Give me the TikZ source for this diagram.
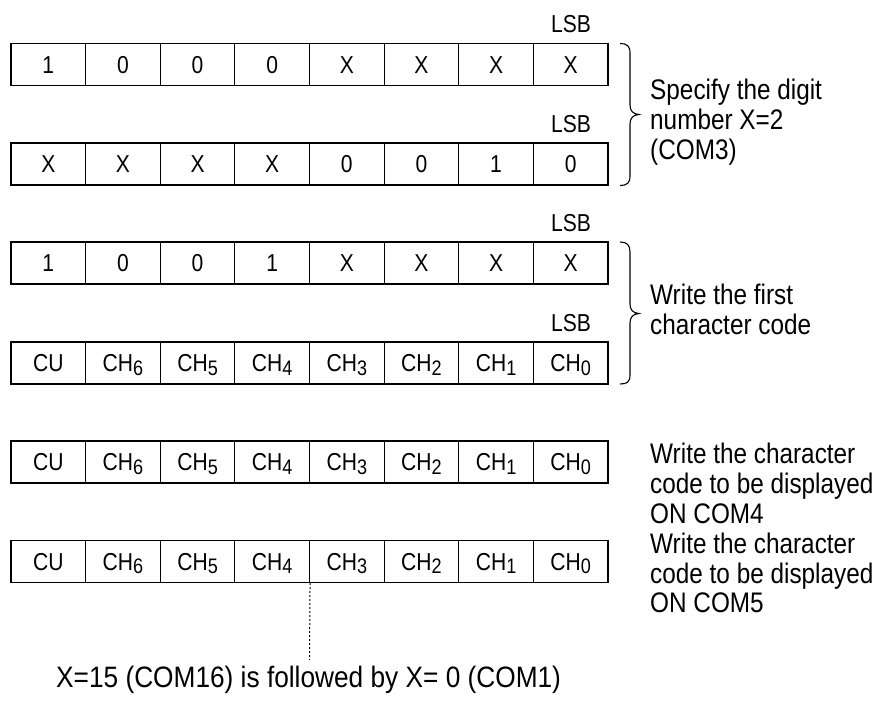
\documentclass[tikz,border=0pt]{standalone}
\usepackage{fontspec}
\setmainfont{Liberation Sans}[FakeStretch=0.86]
\newfontfamily\notefont{Liberation Sans}[FakeStretch=0.89]
\newcommand\sbs[1]{\raisebox{-3.5pt}{\fontsize{21}{21}\selectfont #1}}
\begin{document}
\begin{tikzpicture}[x=1pt,y=-1pt,
  cell/.style={draw,line width=1.1pt,minimum width=74.625pt,minimum height=42pt,inner sep=0pt,text height=17.5pt,text depth=0pt,font=\fontsize{24.5}{28}\selectfont},
  lsb/.style={anchor=base,inner sep=0pt,font=\fontsize{24.5}{28}\selectfont},
  desc/.style={anchor=base west,inner sep=0pt,font=\fontsize{28.3}{30}\selectfont},
  note/.style={anchor=base west,inner sep=0pt,font=\notefont\fontsize{29.5}{30}\selectfont},
  bracepath/.style={line width=1.1pt},
  dotline/.style={line width=1pt,dash pattern=on 2pt off 2pt}]
\useasboundingbox (0,0) rectangle (875,704);
% rows of cells
\foreach [count=\i] \t in {1,0,0,0,X,X,X,X}
  \node[cell] (a\i) at ({11+74.625*(\i-0.5)},64.5) {\t};
\foreach [count=\i] \t in {X,X,X,X,0,0,1,0}
  \node[cell] (b\i) at ({11+74.625*(\i-0.5)},164) {\t};
\foreach [count=\i] \t in {1,0,0,1,X,X,X,X}
  \node[cell] (c\i) at ({11+74.625*(\i-0.5)},263) {\t};
\foreach [count=\i] \t in {CU,CH\sbs{6},CH\sbs{5},CH\sbs{4},CH\sbs{3},CH\sbs{2},CH\sbs{1},CH\sbs{0}}
  \node[cell] (d\i) at ({11+74.625*(\i-0.5)},363) {\t};
\foreach [count=\i] \t in {CU,CH\sbs{6},CH\sbs{5},CH\sbs{4},CH\sbs{3},CH\sbs{2},CH\sbs{1},CH\sbs{0}}
  \node[cell] (e\i) at ({11+74.625*(\i-0.5)},462) {\t};
\foreach [count=\i] \t in {CU,CH\sbs{6},CH\sbs{5},CH\sbs{4},CH\sbs{3},CH\sbs{2},CH\sbs{1},CH\sbs{0}}
  \node[cell] (f\i) at ({11+74.625*(\i-0.5)},561.5) {\t};
% LSB labels
\node[lsb] (lsba) at (571,32.5) {LSB};
\node[lsb] (lsbb) at (571,132) {LSB};
\node[lsb] (lsbc) at (571,231) {LSB};
\node[lsb] (lsbd) at (571,331) {LSB};
% braces
\draw[bracepath] (620,43.5) .. controls (627,43.5) and (630,46) .. (630,53) -- (630,105)
  .. controls (630,111) and (633,114) .. (639,114.5) .. controls (633,115) and (630,118) .. (630,124)
  -- (630,176) .. controls (630,183) and (627,185.5) .. (620,185.5);
\draw[bracepath] (620,242) .. controls (627,242) and (630,245) .. (630,252) -- (630,304)
  .. controls (630,310) and (633,313) .. (639,313.5) .. controls (633,314) and (630,317) .. (630,323)
  -- (630,375) .. controls (630,382) and (627,384) .. (620,384);
% descriptions
\node[desc] (s1) at (650,99.5) {Specify the digit};
\node[desc] (s2) at (650,129.5) {number X=2};
\node[desc] (s3) at (650,159) {(COM3)};
\node[desc] (w1) at (650,304) {Write the first};
\node[desc] (w2) at (650,334) {character code};
\node[desc] (x1) at (650,463) {Write the character};
\node[desc] (x2) at (650,493) {code to be displayed};
\node[desc] (x3) at (650,523) {ON COM4};
\node[desc] (y1) at (650,553) {Write the character};
\node[desc] (y2) at (650,583) {code to be displayed};
\node[desc] (y3) at (650,612) {ON COM5};
% note
\node[note] (nt) at (56,687) {X=15 (COM16) is followed by X= 0 (COM1)};
\coordinate (dotend) at (309.5,660);
\draw[dotline] (f4.south east) -- (dotend);
\end{tikzpicture}
\end{document}
